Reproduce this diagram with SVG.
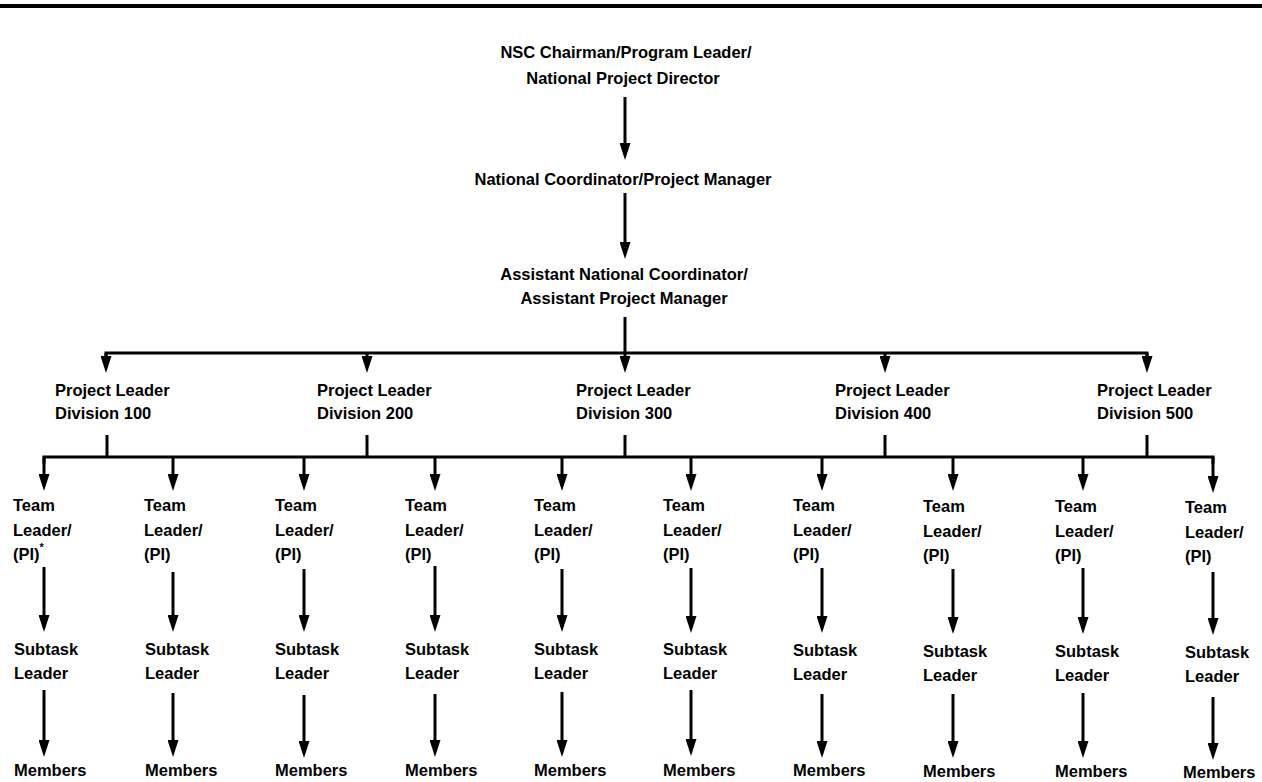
<svg xmlns="http://www.w3.org/2000/svg" width="1262" height="782" viewBox="0 0 1262 782">
  <style>
    .lbl { font-family: "Liberation Sans", Arial, sans-serif; font-weight: bold; font-size: 16.5px; fill: #000; }
    .mid { text-anchor: middle; }
    .ln { stroke: #000; stroke-width: 3; fill: none; }
    .arr { stroke: #000; stroke-width: 3; fill: none; marker-end: url(#head); }
  </style>
  <defs>
    <marker id="head" markerUnits="userSpaceOnUse" markerWidth="17" markerHeight="11" viewBox="0 0 17 11" refX="8" refY="5.5" orient="auto">
      <path d="M0,0 L17,5.5 L0,11 Z" fill="#000"/>
    </marker>
  </defs>

  <rect width="1262" height="782" fill="#fff"/>
  <!-- page rule -->
  <rect x="0" y="4" width="1262" height="4" fill="#000"/>

  <!-- connectors -->
  <g id="connectors">
    <line class="arr" x1="625" y1="97" x2="625" y2="151"/>
    <line class="arr" x1="625" y1="193" x2="625" y2="250"/>
    <line class="ln" x1="625" y1="317" x2="625" y2="353"/>
    <path class="ln" d="M106,360 V353 H1147 V360"/>
    <line class="arr" x1="106" y1="353" x2="106" y2="364"/>
    <line class="arr" x1="367" y1="353" x2="367" y2="364"/>
    <line class="arr" x1="625" y1="353" x2="625" y2="364"/>
    <line class="arr" x1="885" y1="353" x2="885" y2="364"/>
    <line class="arr" x1="1147" y1="353" x2="1147" y2="364"/>

    <line class="ln" x1="107" y1="435" x2="107" y2="457"/>
    <line class="ln" x1="367" y1="435" x2="367" y2="457"/>
    <line class="ln" x1="625" y1="435" x2="625" y2="457"/>
    <line class="ln" x1="885" y1="435" x2="885" y2="457"/>
    <line class="ln" x1="1147" y1="435" x2="1147" y2="457"/>
    <path class="ln" d="M44,464 V457 H1213 V464"/>

    <!-- team leader arrows -->
    <line class="arr" x1="44" y1="457" x2="44" y2="482"/>
    <line class="arr" x1="173" y1="457" x2="173" y2="482"/>
    <line class="arr" x1="304" y1="457" x2="304" y2="482"/>
    <line class="arr" x1="435" y1="457" x2="435" y2="482"/>
    <line class="arr" x1="562" y1="457" x2="562" y2="482"/>
    <line class="arr" x1="691" y1="457" x2="691" y2="482"/>
    <line class="arr" x1="822" y1="457" x2="822" y2="482"/>
    <line class="arr" x1="953" y1="457" x2="953" y2="482"/>
    <line class="arr" x1="1083" y1="457" x2="1083" y2="482"/>
    <line class="arr" x1="1213" y1="457" x2="1213" y2="484"/>

    <!-- team leader to subtask leader -->
    <line class="arr" x1="44" y1="567" x2="44" y2="623"/>
    <line class="arr" x1="173" y1="572" x2="173" y2="623"/>
    <line class="arr" x1="304" y1="569" x2="304" y2="623"/>
    <line class="arr" x1="435" y1="566" x2="435" y2="623"/>
    <line class="arr" x1="562" y1="569" x2="562" y2="623"/>
    <line class="arr" x1="691" y1="568" x2="691" y2="624"/>
    <line class="arr" x1="822" y1="568" x2="822" y2="624"/>
    <line class="arr" x1="953" y1="569" x2="953" y2="625"/>
    <line class="arr" x1="1083" y1="568" x2="1083" y2="625"/>
    <line class="arr" x1="1213" y1="572" x2="1213" y2="626"/>

    <!-- subtask leader to members -->
    <line class="arr" x1="44" y1="690" x2="44" y2="748"/>
    <line class="arr" x1="173" y1="693" x2="173" y2="748"/>
    <line class="arr" x1="304" y1="695" x2="304" y2="749"/>
    <line class="arr" x1="435" y1="694" x2="435" y2="748"/>
    <line class="arr" x1="562" y1="692" x2="562" y2="748"/>
    <line class="arr" x1="691" y1="690" x2="691" y2="747"/>
    <line class="arr" x1="822" y1="694" x2="822" y2="749"/>
    <line class="arr" x1="953" y1="694" x2="953" y2="749"/>
    <line class="arr" x1="1083" y1="693" x2="1083" y2="749"/>
    <line class="arr" x1="1213" y1="697" x2="1213" y2="751"/>
  </g>

  <!-- upper management -->
  <g id="program-leader">
    <text class="lbl mid" x="626" y="58">NSC Chairman/Program Leader/</text>
    <text class="lbl mid" x="623" y="84">National Project Director</text>
  </g>
  <g id="national-coordinator">
    <text class="lbl mid" x="623" y="185">National Coordinator/Project Manager</text>
  </g>
  <g id="assistant-coordinator">
    <text class="lbl mid" x="624" y="280">Assistant National Coordinator/</text>
    <text class="lbl mid" x="624" y="304">Assistant Project Manager</text>
  </g>

  <!-- division project leaders -->
  <g id="division-100"><text class="lbl" x="55" y="396">Project Leader</text><text class="lbl" x="55" y="419">Division  100</text></g>
  <g id="division-200"><text class="lbl" x="317" y="396">Project Leader</text><text class="lbl" x="317" y="419">Division 200</text></g>
  <g id="division-300"><text class="lbl" x="576" y="396">Project Leader</text><text class="lbl" x="576" y="419">Division 300</text></g>
  <g id="division-400"><text class="lbl" x="835" y="396">Project Leader</text><text class="lbl" x="835" y="419">Division 400</text></g>
  <g id="division-500"><text class="lbl" x="1097" y="396">Project Leader</text><text class="lbl" x="1097" y="419">Division 500</text></g>

  <!-- team leaders -->
  <g id="team-1"><text class="lbl" x="13" y="511">Team</text><text class="lbl" x="13" y="536">Leader/</text><text class="lbl" x="13" y="560">(PI)<tspan dy="-9" font-size="11">*</tspan></text></g>
  <g id="team-2"><text class="lbl" x="144" y="511">Team</text><text class="lbl" x="144" y="536">Leader/</text><text class="lbl" x="144" y="560">(PI)</text></g>
  <g id="team-3"><text class="lbl" x="275" y="511">Team</text><text class="lbl" x="275" y="536">Leader/</text><text class="lbl" x="275" y="560">(PI)</text></g>
  <g id="team-4"><text class="lbl" x="405" y="511">Team</text><text class="lbl" x="405" y="536">Leader/</text><text class="lbl" x="405" y="560">(PI)</text></g>
  <g id="team-5"><text class="lbl" x="534" y="511">Team</text><text class="lbl" x="534" y="536">Leader/</text><text class="lbl" x="534" y="560">(PI)</text></g>
  <g id="team-6"><text class="lbl" x="663" y="511">Team</text><text class="lbl" x="663" y="536">Leader/</text><text class="lbl" x="663" y="560">(PI)</text></g>
  <g id="team-7"><text class="lbl" x="793" y="511">Team</text><text class="lbl" x="793" y="536">Leader/</text><text class="lbl" x="793" y="560">(PI)</text></g>
  <g id="team-8"><text class="lbl" x="923" y="512">Team</text><text class="lbl" x="923" y="537">Leader/</text><text class="lbl" x="923" y="561">(PI)</text></g>
  <g id="team-9"><text class="lbl" x="1055" y="512">Team</text><text class="lbl" x="1055" y="537">Leader/</text><text class="lbl" x="1055" y="561">(PI)</text></g>
  <g id="team-10"><text class="lbl" x="1185" y="513">Team</text><text class="lbl" x="1185" y="538">Leader/</text><text class="lbl" x="1185" y="562">(PI)</text></g>

  <!-- subtask leaders -->
  <g id="subtask-1"><text class="lbl" x="14" y="655">Subtask</text><text class="lbl" x="14" y="679">Leader</text></g>
  <g id="subtask-2"><text class="lbl" x="145" y="655">Subtask</text><text class="lbl" x="145" y="679">Leader</text></g>
  <g id="subtask-3"><text class="lbl" x="275" y="655">Subtask</text><text class="lbl" x="275" y="679">Leader</text></g>
  <g id="subtask-4"><text class="lbl" x="405" y="655">Subtask</text><text class="lbl" x="405" y="679">Leader</text></g>
  <g id="subtask-5"><text class="lbl" x="534" y="655">Subtask</text><text class="lbl" x="534" y="679">Leader</text></g>
  <g id="subtask-6"><text class="lbl" x="663" y="655">Subtask</text><text class="lbl" x="663" y="679">Leader</text></g>
  <g id="subtask-7"><text class="lbl" x="793" y="656">Subtask</text><text class="lbl" x="793" y="680">Leader</text></g>
  <g id="subtask-8"><text class="lbl" x="923" y="657">Subtask</text><text class="lbl" x="923" y="681">Leader</text></g>
  <g id="subtask-9"><text class="lbl" x="1055" y="657">Subtask</text><text class="lbl" x="1055" y="681">Leader</text></g>
  <g id="subtask-10"><text class="lbl" x="1185" y="658">Subtask</text><text class="lbl" x="1185" y="682">Leader</text></g>

  <!-- members -->
  <g id="members-1"><text class="lbl" x="14" y="776">Members</text></g>
  <g id="members-2"><text class="lbl" x="145" y="776">Members</text></g>
  <g id="members-3"><text class="lbl" x="275" y="776">Members</text></g>
  <g id="members-4"><text class="lbl" x="405" y="776">Members</text></g>
  <g id="members-5"><text class="lbl" x="534" y="776">Members</text></g>
  <g id="members-6"><text class="lbl" x="663" y="776">Members</text></g>
  <g id="members-7"><text class="lbl" x="793" y="776">Members</text></g>
  <g id="members-8"><text class="lbl" x="923" y="777">Members</text></g>
  <g id="members-9"><text class="lbl" x="1055" y="777">Members</text></g>
  <g id="members-10"><text class="lbl" x="1183" y="778">Members</text></g>
</svg>
